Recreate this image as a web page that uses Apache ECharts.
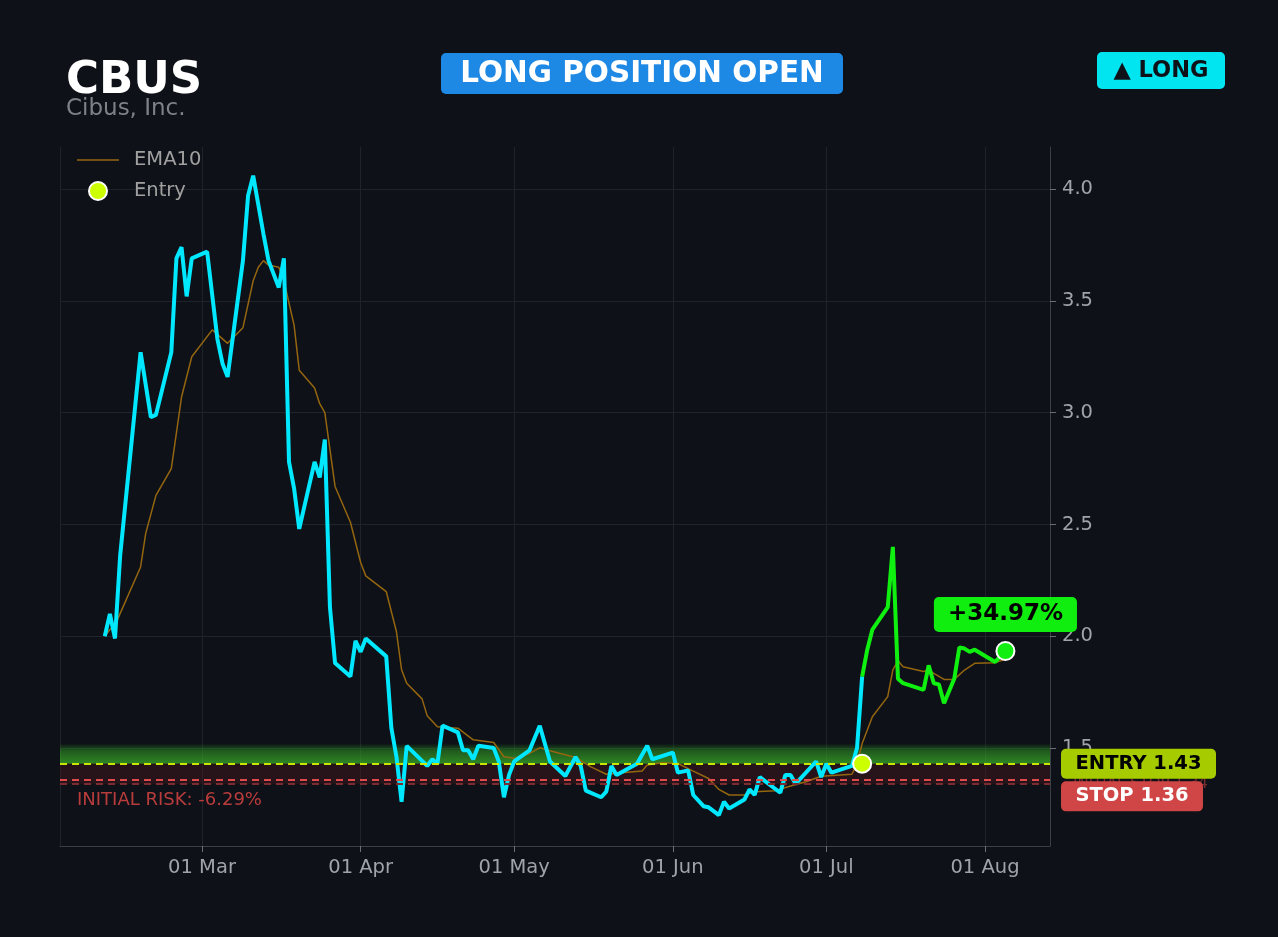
<!DOCTYPE html>
<html>
<head>
<meta charset="utf-8">
<script src="https://cdn.jsdelivr.net/npm/echarts@6.0.0/dist/echarts.min.js"></script>
<style>
html,body{margin:0;padding:0;background:#0e1117;}
#chart{width:1278px;height:937px;}
</style>
</head>
<body>
<div id="chart"></div>
<script>
// ---------- DATA ----------
const priceDates = ['2025-02-10','2025-02-11','2025-02-12','2025-02-13','2025-02-17','2025-02-19','2025-02-20','2025-02-23','2025-02-24','2025-02-25','2025-02-26','2025-02-27','2025-03-02','2025-03-04','2025-03-05','2025-03-06','2025-03-09','2025-03-10','2025-03-11','2025-03-13','2025-03-14','2025-03-16','2025-03-17','2025-03-18','2025-03-19','2025-03-20','2025-03-23','2025-03-24','2025-03-25','2025-03-26','2025-03-27','2025-03-30','2025-03-31','2025-04-01','2025-04-02','2025-04-06','2025-04-07','2025-04-08','2025-04-09','2025-04-10','2025-04-14','2025-04-15','2025-04-16','2025-04-17','2025-04-20','2025-04-21','2025-04-22','2025-04-23','2025-04-24','2025-04-27','2025-04-28','2025-04-29','2025-04-30','2025-05-01','2025-05-04','2025-05-06','2025-05-08','2025-05-11','2025-05-13','2025-05-14','2025-05-15','2025-05-18','2025-05-19','2025-05-20','2025-05-21','2025-05-25','2025-05-27','2025-05-28','2025-06-01','2025-06-02','2025-06-04','2025-06-05','2025-06-07','2025-06-08','2025-06-10','2025-06-11','2025-06-12','2025-06-15','2025-06-16','2025-06-17','2025-06-18','2025-06-22','2025-06-23','2025-06-24','2025-06-25','2025-06-29','2025-06-30','2025-07-01','2025-07-02','2025-07-06','2025-07-07','2025-07-08'];
const priceValues = [2.00,2.10,1.99,2.36,3.27,2.98,2.99,3.27,3.69,3.74,3.52,3.69,3.72,3.33,3.22,3.16,3.68,3.97,4.06,3.80,3.68,3.56,3.69,2.78,2.66,2.48,2.78,2.71,2.88,2.13,1.88,1.82,1.98,1.93,1.99,1.91,1.59,1.46,1.26,1.51,1.42,1.45,1.43,1.60,1.57,1.49,1.49,1.45,1.51,1.50,1.44,1.28,1.38,1.44,1.49,1.60,1.44,1.375,1.46,1.42,1.31,1.28,1.305,1.42,1.38,1.43,1.51,1.45,1.48,1.39,1.40,1.29,1.24,1.235,1.20,1.26,1.23,1.27,1.315,1.29,1.37,1.30,1.38,1.38,1.34,1.44,1.37,1.43,1.39,1.42,1.50,1.82];

const tradeDates = ['2025-07-08','2025-07-09','2025-07-10','2025-07-13','2025-07-14','2025-07-15','2025-07-16','2025-07-20','2025-07-21','2025-07-22','2025-07-23','2025-07-24','2025-07-26','2025-07-27','2025-07-28','2025-07-29','2025-07-30','2025-08-03','2025-08-04','2025-08-05'];
const tradeValues = [1.82,1.94,2.03,2.13,2.40,1.81,1.79,1.76,1.87,1.79,1.785,1.70,1.81,1.95,1.945,1.93,1.94,1.885,1.91,1.934];

const emaDates = ['2025-02-10','2025-02-11','2025-02-12','2025-02-17','2025-02-18','2025-02-20','2025-02-23','2025-02-25','2025-02-27','2025-03-03','2025-03-06','2025-03-09','2025-03-11','2025-03-12','2025-03-13','2025-03-14','2025-03-16','2025-03-17','2025-03-19','2025-03-20','2025-03-23','2025-03-24','2025-03-25','2025-03-27','2025-03-30','2025-04-01','2025-04-02','2025-04-06','2025-04-08','2025-04-09','2025-04-10','2025-04-13','2025-04-14','2025-04-16','2025-04-20','2025-04-23','2025-04-27','2025-04-29','2025-05-01','2025-05-04','2025-05-06','2025-05-08','2025-05-13','2025-05-16','2025-05-19','2025-05-22','2025-05-26','2025-05-27','2025-05-30','2025-06-02','2025-06-05','2025-06-08','2025-06-10','2025-06-12','2025-06-15','2025-06-17','2025-06-21','2025-06-24','2025-06-27','2025-06-30','2025-07-06','2025-07-07','2025-07-08','2025-07-10','2025-07-13','2025-07-14','2025-07-15','2025-07-16','2025-07-20','2025-07-21','2025-07-22','2025-07-24','2025-07-26','2025-07-28','2025-07-30','2025-08-03','2025-08-05'];
const emaValues = [2.00,2.03,2.05,2.31,2.46,2.63,2.75,3.07,3.25,3.37,3.31,3.38,3.59,3.65,3.68,3.66,3.65,3.59,3.39,3.19,3.11,3.04,3.00,2.67,2.51,2.33,2.27,2.20,2.02,1.85,1.79,1.72,1.645,1.595,1.589,1.537,1.525,1.461,1.454,1.476,1.501,1.488,1.458,1.416,1.383,1.39,1.397,1.424,1.434,1.431,1.397,1.364,1.315,1.29,1.29,1.305,1.309,1.33,1.349,1.374,1.383,1.43,1.52,1.64,1.73,1.85,1.89,1.864,1.842,1.849,1.834,1.807,1.807,1.849,1.879,1.882,1.897];

const entryDate = '2025-07-08';
const entryPrice = 1.43;
const stopPrice = 1.36;
const initialStopPrice = 1.34;
const bandTop = 1.52;
const ticker = 'CBUS';
const companyName = 'Cibus, Inc.';
const statusText = 'LONG POSITION OPEN';
const sideText = '▲ LONG';
const gainText = '+34.97%';
const riskText = 'INITIAL RISK: -6.29%';
const monthNames = ['Jan','Feb','Mar','Apr','May','Jun','Jul','Aug','Sep','Oct','Nov','Dec'];

// ---------- CHART ----------
const FONT = "'DejaVu Sans', sans-serif";
const zip = (d, v) => d.map((x, i) => [x, v[i]]);
const lastIdx = tradeDates.length - 1;
const chart = echarts.init(document.getElementById('chart'), null, {renderer: 'canvas'});

const gridColor = '#1f232a';
const axisColor = '#3a3e45';
const labelColor = '#a0a4aa';
// thin horizontal line icon (tiny slivers at top/bottom keep the 42x18 box)
const lineIcon = 'path://M0,0h0.5v0.05h-0.5z M0,8.3h42v1.4h-42z M0,17.95h0.5v0.05h-0.5z';

chart.setOption({
  backgroundColor: '#0e1117',
  animation: false,
  textStyle: {fontFamily: FONT},
  grid: {left: 60, right: 228, top: 147, bottom: 91, containLabel: false},
  legend: {
    data: [{name: 'EMA10', icon: lineIcon}, {name: 'Entry'}],
    orient: 'vertical', left: 72, top: 145,
    itemWidth: 42, itemHeight: 18, itemGap: 11,
    textStyle: {color: '#a0a0a0', fontSize: 19.5, fontFamily: FONT, padding: [0, 0, 0, 10]}
  },
  xAxis: {
    type: 'time',
    min: new Date(2025, 1, 1, 6).getTime(),
    max: new Date(2025, 7, 13, 17).getTime(),
    splitNumber: 6,
    minInterval: 28 * 86400000,
    axisLine: {lineStyle: {color: axisColor, width: 1}},
    axisTick: {show: true, length: 6, lineStyle: {color: '#6a6e75'}},
    splitLine: {show: true, lineStyle: {color: gridColor, width: 1}},
    axisLabel: {
      color: labelColor, fontSize: 19.5, margin: 12, fontFamily: FONT,
      formatter: function (v) {
        const d = new Date(v);
        return String(d.getDate()).padStart(2, '0') + ' ' + monthNames[d.getMonth()];
      }
    }
  },
  yAxis: {
    type: 'value', position: 'right',
    min: 1.062, max: 4.188,
    axisLine: {show: true, lineStyle: {color: axisColor, width: 1}},
    axisTick: {show: true, length: 6, lineStyle: {color: '#6a6e75'}},
    splitLine: {show: true, showMinLine: false, showMaxLine: false, lineStyle: {color: gridColor, width: 1}},
    axisLabel: {
      color: labelColor, fontSize: 19.5, margin: 12, fontFamily: FONT,
      showMinLabel: false, showMaxLabel: false,
      formatter: v => v.toFixed(1)
    }
  },
  series: [
    {
      name: 'Bands', type: 'line', data: [], silent: true,
      markArea: {
        silent: true,
        data: [
          [{yAxis: entryPrice, itemStyle: {color: {type: 'linear', x: 0, y: 0, x2: 0, y2: 1, colorStops: [
            {offset: 0, color: 'rgba(40,150,30,0)'},
            {offset: 0.35, color: 'rgba(45,150,35,0.55)'},
            {offset: 1, color: 'rgba(60,175,40,0.75)'}]}}}, {yAxis: bandTop}],
          [{yAxis: initialStopPrice, itemStyle: {color: 'rgba(70,25,30,0.45)'}}, {yAxis: entryPrice}]
        ]
      },
      markLine: {
        silent: true, symbol: 'none', label: {show: false},
        data: [
          {yAxis: initialStopPrice, lineStyle: {color: '#7c2c2e', width: 2, type: [7, 5]}},
          {yAxis: stopPrice, lineStyle: {color: '#e04a4a', width: 2, type: [7, 5]}},
          {yAxis: entryPrice, lineStyle: {color: '#c8e600', width: 2, type: [7, 5]}}
        ]
      }
    },
    {
      name: 'EMA10', type: 'line', data: zip(emaDates, emaValues),
      symbol: 'none', z: 3,
      lineStyle: {color: '#946610', width: 1.5}, itemStyle: {color: '#946610'}
    },
    {
      name: 'Price', type: 'line', data: zip(priceDates, priceValues),
      symbol: 'none', z: 4,
      lineStyle: {color: '#00e8ff', width: 4}, itemStyle: {color: '#00e8ff'}
    },
    {
      name: 'Trade', type: 'line', data: zip(tradeDates, tradeValues),
      symbol: 'none', z: 4,
      lineStyle: {color: '#10f010', width: 4}, itemStyle: {color: '#10f010'}
    },
    {
      name: 'Entry', type: 'scatter', data: [[entryDate, entryPrice]],
      symbolSize: 18, z: 6,
      itemStyle: {color: '#ccff00', borderColor: '#ffffff', borderWidth: 2, opacity: 1}
    },
    {
      name: 'Last', type: 'scatter', data: [[tradeDates[lastIdx], tradeValues[lastIdx]]],
      symbolSize: 18, z: 6,
      itemStyle: {color: '#12ee12', borderColor: '#ffffff', borderWidth: 2, opacity: 1},
      label: {
        show: true, position: 'top', distance: 9,
        formatter: gainText,
        color: '#000000', fontWeight: 'bold', fontSize: 23, fontFamily: FONT,
        backgroundColor: '#10ee10', borderRadius: 5, padding: [6, 14, 6, 14]
      }
    }
  ]
});

// overlays positioned through the chart's own scales
const gridRight = 1278 - 228;
const yEntry = chart.convertToPixel({gridIndex: 0}, [entryDate, entryPrice])[1];
const yStop = chart.convertToPixel({gridIndex: 0}, [entryDate, stopPrice])[1];
const yInit = chart.convertToPixel({gridIndex: 0}, [entryDate, initialStopPrice])[1];

chart.setOption({
  graphic: [
    {type: 'text', left: 66, top: 59, z: 100,
      style: {text: ticker, fill: '#ffffff', font: "bold 45px " + FONT}},
    {type: 'text', left: 66, top: 98, z: 100,
      style: {text: companyName, fill: '#7f8186', font: "23px " + FONT}},
    {type: 'rect', z: 100, shape: {x: 441, y: 53, width: 402, height: 41, r: 5}, style: {fill: '#1e88e5'}},
    {type: 'text', z: 101, x: 642, y: 74,
      style: {text: statusText, fill: '#ffffff', font: "bold 29.5px " + FONT, textAlign: 'center', textVerticalAlign: 'middle'}},
    {type: 'rect', z: 100, shape: {x: 1097, y: 52, width: 128, height: 37, r: 5}, style: {fill: '#00e5f0'}},
    {type: 'text', z: 101, x: 1161, y: 71,
      style: {text: sideText, fill: '#0e1117', font: "bold 22.5px " + FONT, textAlign: 'center', textVerticalAlign: 'middle'}},
    // initial stop text (mostly hidden behind STOP tag)
    {type: 'text', z: 100, x: gridRight + 23, y: yInit,
      style: {text: 'INITIAL STOP ' + initialStopPrice.toFixed(2), fill: 'rgba(224,74,74,0.5)', font: "15px " + FONT, textVerticalAlign: 'middle'}},
    // entry tag
    {type: 'rect', z: 102, shape: {x: gridRight + 11, y: yEntry - 15, width: 155, height: 30, r: 5}, style: {fill: '#a6cc00'}},
    {type: 'text', z: 103, x: gridRight + 11 + 77.5, y: yEntry,
      style: {text: 'ENTRY ' + entryPrice.toFixed(2), fill: '#000000', font: "bold 19.5px " + FONT, textAlign: 'center', textVerticalAlign: 'middle'}},
    // stop tag
    {type: 'rect', z: 102, shape: {x: gridRight + 11, y: yStop + 2, width: 142, height: 30, r: 5}, style: {fill: '#d04545'}},
    {type: 'text', z: 103, x: gridRight + 11 + 71, y: yStop + 17,
      style: {text: 'STOP ' + stopPrice.toFixed(2), fill: '#ffffff', font: "bold 19.5px " + FONT, textAlign: 'center', textVerticalAlign: 'middle'}},
    // initial risk
    {type: 'text', z: 100, x: 77, y: yStop + 21,
      style: {text: riskText, fill: '#b83c3c', font: "18px " + FONT, textVerticalAlign: 'middle'}}
  ]
});
</script>
</body>
</html>
